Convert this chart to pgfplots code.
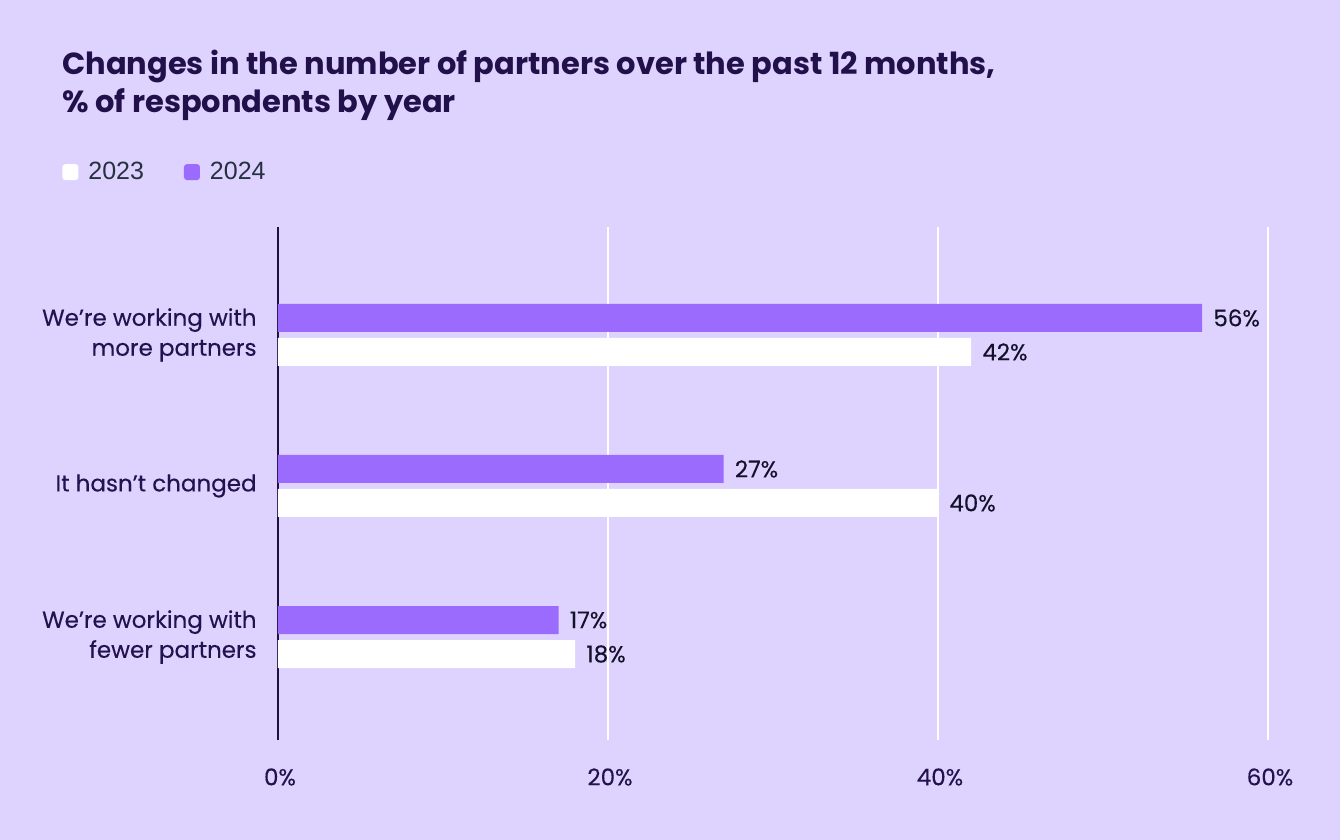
\documentclass[border=0pt]{standalone}
\usepackage{fontspec}
\setmainfont{Poppins}
\newfontfamily\legfont{Liberation Sans}
\newfontfamily\popmed[FakeBold=0.25]{Poppins}
\usepackage{pgfplots}
\pgfplotsset{compat=1.18}
\definecolor{bg}{HTML}{DED3FE}
\definecolor{barpurple}{HTML}{9B6BFE}
\definecolor{titlec}{HTML}{21104A}
\definecolor{labelc}{HTML}{23124F}
\definecolor{valc}{HTML}{14112B}
\definecolor{legc}{HTML}{26303F}
\definecolor{axisc}{HTML}{1E0F44}
\begin{document}
\begin{tikzpicture}
\useasboundingbox (0,0) rectangle (670pt,-420pt);
\fill[bg] (0,0) rectangle (670pt,-420pt);
\node[anchor=base west, align=left, inner sep=0pt, text=titlec,
      font={\bfseries\fontsize{15.25}{19}\selectfont}] at (31pt,-56.5pt)
  {Changes in the number of partners over the past 12 months,\\\% of respondents by year};
\begin{axis}[
  at={(139pt,-370pt)}, anchor=south west,
  scale only axis, width=495pt, height=256.5pt,
  xbar, bar width=14pt,
  xmin=0, xmax=60, ymin=-0.682, ymax=2.715,
  ytick={0,1,2},
  yticklabels={{We’re working with\\fewer partners},{It hasn’t changed},{We’re working with\\more partners}},
  yticklabel style={align=right, inner sep=0pt, xshift=-10.5pt, text=labelc,
    font={\popmed\fontsize{11.5}{15}\selectfont}},
  xtick={0,20,40,60},
  /pgf/number format/assume math mode=true,
  xticklabel={\pgfmathprintnumber{\tick}\%},
  xticklabel style={anchor=center, yshift=-18.5pt, xshift=1pt, text=labelc,
    font={\popmed\fontsize{11.5}{13}\selectfont}},
  major tick length=0pt,
  axis line style={draw=none},
  xmajorgrids, grid style={white, line width=0.75pt},
  extra x ticks={0}, extra x tick labels={},
  extra x tick style={grid style={color=axisc, line width=1.3pt}},
  point meta=x,
  nodes near coords={\pgfmathprintnumber{\pgfplotspointmeta}\%},
  nodes near coords style={anchor=west, inner sep=0pt, xshift=5.5pt, text=valc,
    font={\popmed\fontsize{11.5}{13}\selectfont}},
  legend style={at={(-0.2182,1.107)}, anchor=west, draw=none, fill=none,
    inner sep=0pt, legend columns=2,
    /tikz/every even column/.append style={column sep=20pt},
    nodes={inner sep=0pt, text=legc, font={\legfont\fontsize{12.5}{14}\selectfont}}},
  legend cell align=left,
  legend image code/.code={\fill[#1, rounded corners=1.5pt] (0pt,-4pt) rectangle (8pt,4pt);\path (13pt,0pt);},
]
\addplot[fill=white, draw=none, bar shift=-8.5pt] coordinates {(42,2) (40,1) (18,0)};
\addplot[fill=barpurple, draw=none, bar shift=8.5pt] coordinates {(56,2) (27,1) (17,0)};
\legend{2023,2024}
\end{axis}
\end{tikzpicture}
\end{document}
